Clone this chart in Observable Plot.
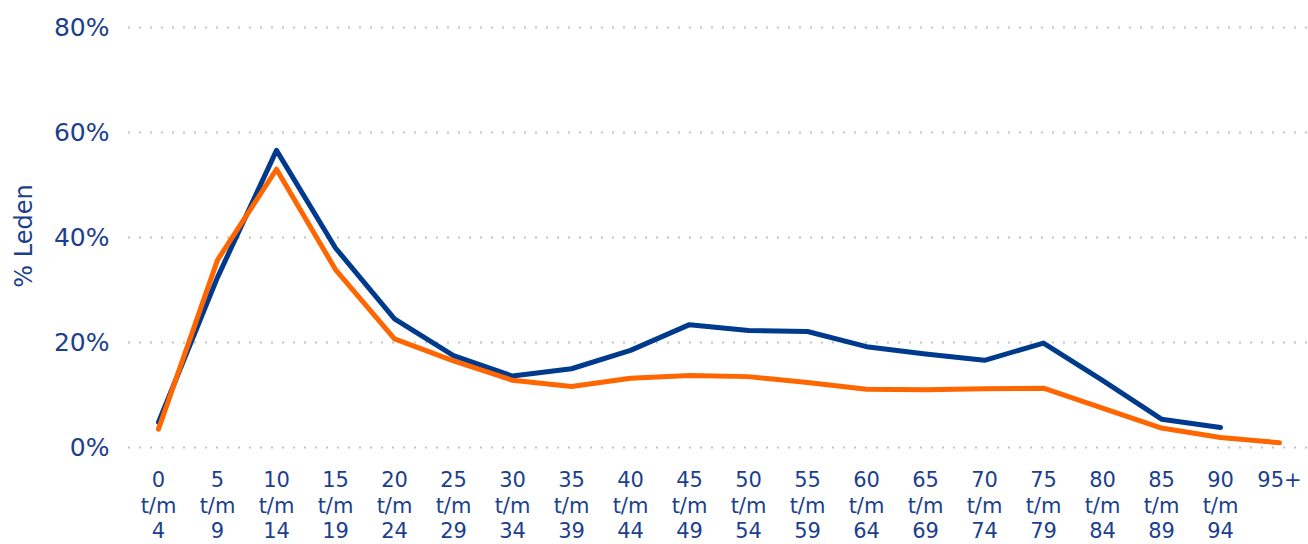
<!DOCTYPE html>
<html>
<head>
<meta charset="utf-8">
<script src="https://cdn.jsdelivr.net/npm/d3@7"></script>
<script src="https://cdn.jsdelivr.net/npm/@observablehq/plot@0.6"></script>
<style>
  html, body { margin: 0; padding: 0; background: #fff; }
  #chart { width: 1308px; height: 544px; }
</style>
</head>
<body>
<div id="chart"></div>
<script>
const categories = ["0\nt/m\n4", "5\nt/m\n9", "10\nt/m\n14", "15\nt/m\n19", "20\nt/m\n24", "25\nt/m\n29", "30\nt/m\n34", "35\nt/m\n39", "40\nt/m\n44", "45\nt/m\n49", "50\nt/m\n54", "55\nt/m\n59", "60\nt/m\n64", "65\nt/m\n69", "70\nt/m\n74", "75\nt/m\n79", "80\nt/m\n84", "85\nt/m\n89", "90\nt/m\n94", "95+"];
const blueSeries = [4.8, 32.4, 56.6, 38.0, 24.5, 17.5, 13.6, 15.0, 18.5, 23.4, 22.3, 22.1, 19.2, 17.8, 16.6, 19.9, 12.8, 5.4, 3.8, null];
const orangeSeries = [3.5, 35.7, 53.0, 33.9, 20.7, 16.5, 12.8, 11.6, 13.2, 13.7, 13.5, 12.4, 11.1, 11.0, 11.2, 11.3, 7.5, 3.7, 1.9, 0.9];
const yTicks = [0, 0.2, 0.4, 0.6, 0.8];
const yLabel = "% Leden";

const textColor = "#1c3f8c";
const blueColor = "#003a8c";
const orangeColor = "#ff6600";

const blueData = categories.map((c, i) => ({cat: c, v: blueSeries[i] == null ? null : blueSeries[i] / 100})).filter(d => d.v != null);
const orangeData = categories.map((c, i) => ({cat: c, v: orangeSeries[i] == null ? null : orangeSeries[i] / 100})).filter(d => d.v != null);

const chart = Plot.plot({
  width: 1308,
  height: 544,
  marginLeft: 128,
  marginRight: 0,
  marginTop: 27,
  marginBottom: 97,
  style: {fontFamily: "DejaVu Sans, Verdana, sans-serif", color: textColor, background: "#fff"},
  x: {type: "point", domain: categories, padding: 0.4},
  y: {domain: [0, 0.8]},
  marks: [
    Plot.ruleY(yTicks, {stroke: "#c4c4c4", strokeWidth: 2, strokeDasharray: "2,9"}),
    Plot.axisY({ticks: yTicks, tickFormat: d3.format(".0%"), tickSize: 0, tickPadding: 19, fontSize: 25, fill: textColor, label: null}),
    Plot.axisX({tickSize: 0, tickPadding: 22, fontSize: 21, lineHeight: 1.2, fill: textColor, label: null}),
    Plot.text([yLabel], {frameAnchor: "left", textAnchor: "middle", dx: -104, dy: -1.5, rotate: -90, fontSize: 24, fill: textColor}),
    Plot.line(blueData, {x: "cat", y: "v", stroke: blueColor, strokeWidth: 5}),
    Plot.line(orangeData, {x: "cat", y: "v", stroke: orangeColor, strokeWidth: 5})
  ]
});
document.getElementById("chart").appendChild(chart);
</script>
</body>
</html>
